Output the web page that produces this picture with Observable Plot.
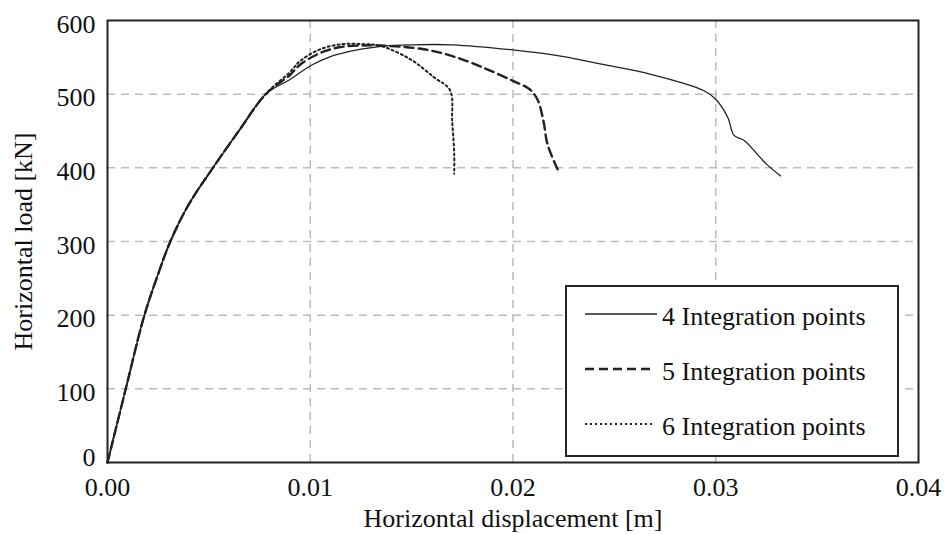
<!DOCTYPE html>
<html><head><meta charset="utf-8">
<script src="https://cdn.jsdelivr.net/npm/d3@7"></script>
<script src="https://cdn.jsdelivr.net/npm/@observablehq/plot@0.6"></script>
<style>
body{margin:0;background:#fff;}
#wrap{position:relative;width:944px;height:534px;}
#legend{position:absolute;left:0;top:0;pointer-events:none;}
</style>
</head><body><div id="wrap"></div>
<script>
const FONT = "'Liberation Serif', 'Times New Roman', Times, 'DejaVu Serif', serif";
// Series names
const seriesNames = ["4 Integration points", "5 Integration points", "6 Integration points"];
// shared pre-peak branch
const dispRise = [0, 0.0009, 0.0018, 0.0025, 0.0031, 0.004, 0.0052, 0.0065, 0.0078];
const loadRise = [0, 100, 198, 256, 300, 350, 400, 451, 500];
// 4 integration points
const disp4 = [0.009, 0.0101, 0.011, 0.0115, 0.0125, 0.0135, 0.015, 0.017, 0.02, 0.0225, 0.0243, 0.0268, 0.0294, 0.03, 0.0306, 0.0309, 0.0314, 0.0325, 0.0332];
const load4 = [520, 540, 551, 555, 561, 565, 567, 567, 560, 551, 541, 527, 505, 493, 468, 444, 437, 405, 389];
// 5 integration points
const disp5 = [0.009, 0.0095, 0.0105, 0.0115, 0.0125, 0.0134, 0.0156, 0.0172, 0.0187, 0.02, 0.0208, 0.0212, 0.0215, 0.0217, 0.0222];
const load5 = [526, 540, 556, 564, 566, 566, 561, 550, 534, 518, 507, 493, 464, 432, 398];
// 6 integration points
const disp6 = [0.009, 0.0095, 0.0105, 0.0116, 0.0125, 0.0134, 0.0149, 0.0161, 0.0169, 0.017, 0.0171, 0.0171];
const load6 = [530, 545, 561, 568, 568, 566, 548, 523, 505, 464, 419, 392];
// ticks
const xTicks = [0, 0.01, 0.02, 0.03, 0.04];
const yTicks = [0, 100, 200, 300, 400, 500, 600];

const rows = [];
[[disp4, load4], [disp5, load5], [disp6, load6]].forEach(([xs, ys], i) => {
  dispRise.forEach((d, j) => rows.push({s: seriesNames[i], x: d, y: loadRise[j]}));
  xs.forEach((d, j) => rows.push({s: seriesNames[i], x: d, y: ys[j]}));
});
const styles = {
  [seriesNames[0]]: {w: 1.3, dash: null, len: 72},
  [seriesNames[1]]: {w: 2.4, dash: "9,5", len: 67},
  [seriesNames[2]]: {w: 2, dash: "2,3", len: 70}
};

const chart = Plot.plot({
  width: 944, height: 534,
  marginLeft: 107, marginRight: 26, marginTop: 20, marginBottom: 72,
  style: {fontFamily: FONT, fontSize: "26px", color: "#111", background: "white"},
  x: {domain: [0, 0.04], label: "Horizontal displacement [m]"},
  y: {domain: [0, 600], label: "Horizontal load [kN]"},
  marks: [
    Plot.gridX(xTicks.slice(1, 4), {stroke: "#bbb", strokeOpacity: 1, strokeWidth: 1.5, strokeDasharray: "8,6"}),
    Plot.gridY(yTicks.slice(1, 6), {stroke: "#bbb", strokeOpacity: 1, strokeWidth: 1.5, strokeDasharray: "8,6"}),
    Plot.axisX(xTicks, {tickSize: 0, tickPadding: 15, fontSize: 26, tickFormat: d => d.toFixed(2), label: "Horizontal displacement [m]", labelAnchor: "center", labelArrow: "none", labelOffset: 64}),
    Plot.axisY(yTicks.slice(1), {tickSize: 0, tickPadding: 12, dy: 4, fontSize: 26, label: "Horizontal load [kN]", labelAnchor: "center", labelArrow: "none", labelOffset: 94}),
    Plot.axisY(yTicks.slice(0, 1), {tickSize: 0, tickPadding: 12, dy: -5, fontSize: 26, label: null}),
    ...seriesNames.map(n => Plot.line(rows.filter(r => r.s === n), {x: "x", y: "y", stroke: "#222", strokeWidth: styles[n].w, strokeDasharray: styles[n].dash, curve: "catmull-rom"})),
    Plot.frame({stroke: "#222", strokeWidth: 2})
  ]
});
const wrap = document.getElementById("wrap");
wrap.appendChild(chart);

// Legend overlay
const ns = "http://www.w3.org/2000/svg";
const leg = document.createElementNS(ns, "svg");
leg.setAttribute("id", "legend");
leg.setAttribute("width", 944);
leg.setAttribute("height", 534);
const box = document.createElementNS(ns, "rect");
box.setAttribute("x", 566); box.setAttribute("y", 286);
box.setAttribute("width", 332); box.setAttribute("height", 170);
box.setAttribute("fill", "#fff"); box.setAttribute("stroke", "#222"); box.setAttribute("stroke-width", 2);
leg.appendChild(box);
const lineY = [314, 369, 424];
seriesNames.forEach((n, i) => {
  const st = styles[n];
  const ln = document.createElementNS(ns, "line");
  ln.setAttribute("x1", 585); ln.setAttribute("x2", 585 + st.len);
  ln.setAttribute("y1", lineY[i]); ln.setAttribute("y2", lineY[i]);
  ln.setAttribute("stroke", "#222"); ln.setAttribute("stroke-width", st.w);
  if (st.dash) ln.setAttribute("stroke-dasharray", st.dash);
  leg.appendChild(ln);
  const t = document.createElementNS(ns, "text");
  t.setAttribute("x", 662); t.setAttribute("y", lineY[i] + 11);
  t.setAttribute("font-family", FONT); t.setAttribute("font-size", 26);
  t.setAttribute("fill", "#111");
  t.textContent = n;
  leg.appendChild(t);
});
wrap.appendChild(leg);
</script>
</body></html>
